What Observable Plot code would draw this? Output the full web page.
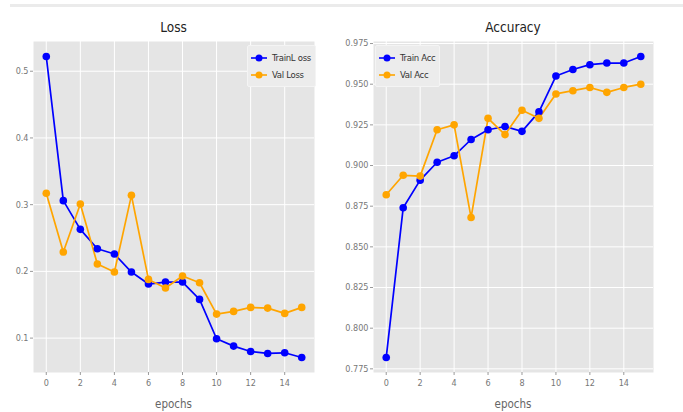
<!DOCTYPE html>
<html>
<head>
<meta charset="utf-8">
<script src="https://cdn.jsdelivr.net/npm/d3@7"></script>
<script src="https://cdn.jsdelivr.net/npm/@observablehq/plot@0.6"></script>
<style>
  html, body { margin: 0; padding: 0; background: #fff; }
  #wrap { position: relative; width: 683px; height: 412px; overflow: hidden;
          font-family: "Liberation Sans Narrow", "DejaVu Sans Condensed", "Liberation Sans", sans-serif; }
  .topbar { position: absolute; left: 10px; top: 4px; width: 673px; height: 3px; background: #ebebeb; }
  .panel { position: absolute; top: 0; }
  .title { position: absolute; top: 19px; font-size: 13.5px; color: #222; transform: translateX(-50%); white-space: nowrap; }
  .xlabel { position: absolute; top: 397px; font-size: 11.5px; color: #666; transform: translateX(-50%); white-space: nowrap; }
  .legend { position: absolute; background: #ececec; border: 1px solid #f4f4f4; border-radius: 2px;
            font-size: 9.5px; letter-spacing: -0.3px; color: #333; padding: 3px 4px 3px 3px; }
  .legend .row { display: flex; align-items: center; height: 17px; }
  .legend svg { margin-right: 5px; }
</style>
</head>
<body>
<div id="wrap">
  <div class="topbar"></div>
</div>
<script>
const epochs = [0,1,2,3,4,5,6,7,8,9,10,11,12,13,14,15];
const trainLoss = [0.522,0.306,0.263,0.234,0.226,0.199,0.181,0.184,0.184,0.158,0.099,0.088,0.080,0.077,0.078,0.071];
const valLoss   = [0.317,0.229,0.301,0.211,0.199,0.314,0.188,0.175,0.193,0.183,0.136,0.140,0.146,0.145,0.137,0.146];
const trainAcc  = [0.782,0.874,0.891,0.902,0.906,0.916,0.922,0.924,0.921,0.933,0.955,0.959,0.962,0.963,0.963,0.967];
const valAcc    = [0.882,0.894,0.8935,0.922,0.925,0.868,0.929,0.919,0.934,0.929,0.944,0.946,0.948,0.945,0.948,0.950];
const xTicks = [0,2,4,6,8,10,12,14];
const lossTicks = [0.1,0.2,0.3,0.4,0.5];
const accTicks = [0.775,0.800,0.825,0.850,0.875,0.900,0.925,0.950,0.975];
const lossLabels = ["TrainL oss", "Val Loss"];
const accLabels = ["Train Acc", "Val Acc"];
const titles = ["Loss", "Accuracy"];
const colors = ["#0000ff", "#ffa500"];

const FONT = '"Liberation Sans Narrow", "DejaVu Sans Condensed", sans-serif';

function toRows(a, b, names) {
  return [
    ...epochs.map((e, i) => ({epoch: e, value: a[i], series: names[0]})),
    ...epochs.map((e, i) => ({epoch: e, value: b[i], series: names[1]}))
  ];
}

function pad(ext) { const r = ext[1] - ext[0]; return [ext[0] - r * 0.05, ext[1] + r * 0.05]; }

function makeChart(rows, names, yTicks, yFmt, width, mLeft, mRight) {
  const yDom = pad(d3.extent(rows, d => d.value));
  return Plot.plot({
    width, height: 412,
    marginLeft: mLeft, marginRight: mRight, marginTop: 41, marginBottom: 40,
    style: { background: "transparent", fontSize: "9px", fontFamily: FONT, color: "#777", overflow: "visible" },
    x: { domain: pad([0, 15]), ticks: xTicks, tickFormat: d3.format("d"), label: null },
    y: { domain: yDom, ticks: yTicks, tickFormat: yFmt, label: null },
    color: { domain: names, range: colors },
    marks: [
      Plot.frame({ fill: "#e5e5e5", stroke: null }),
      Plot.gridX({ ticks: xTicks, stroke: "#fff", strokeOpacity: 1, strokeWidth: 1 }),
      Plot.gridY({ ticks: yTicks, stroke: "#fff", strokeOpacity: 1, strokeWidth: 1 }),
      Plot.axisX({ ticks: xTicks, tickFormat: d3.format("d"), tickSize: 3, tickPadding: 4, stroke: "#999", label: null }),
      Plot.axisY({ ticks: yTicks, tickFormat: yFmt, tickSize: 3, tickPadding: 2, stroke: "#999", label: null }),
      Plot.line(rows, { x: "epoch", y: "value", z: "series", stroke: "series", strokeWidth: 1.7 }),
      Plot.dot(rows, { x: "epoch", y: "value", fill: "series", r: 3.8 })
    ]
  });
}

function legendHTML(names) {
  return names.map((n, i) =>
    `<div class="row"><svg width="16" height="10"><line x1="0" y1="5" x2="16" y2="5" stroke="${colors[i]}" stroke-width="1.6"/><circle cx="8" cy="5" r="3.5" fill="${colors[i]}"/></svg><span>${n}</span></div>`
  ).join("");
}

const wrap = document.getElementById("wrap");

function addPanel(left, chart, title, centerX, names, legendLeft) {
  const p = document.createElement("div");
  p.className = "panel";
  p.style.left = left + "px";
  p.appendChild(chart);
  wrap.appendChild(p);
  const t = document.createElement("div");
  t.className = "title"; t.textContent = title; t.style.left = centerX + "px";
  wrap.appendChild(t);
  const xl = document.createElement("div");
  xl.className = "xlabel"; xl.textContent = "epochs"; xl.style.left = centerX + "px";
  wrap.appendChild(xl);
  const lg = document.createElement("div");
  lg.className = "legend"; lg.innerHTML = legendHTML(names);
  lg.style.left = legendLeft + "px"; lg.style.top = "45px";
  wrap.appendChild(lg);
}

const lossChart = makeChart(toRows(trainLoss, valLoss, lossLabels), lossLabels, lossTicks, d3.format(".1f"), 340, 33, 26);
addPanel(0, lossChart, titles[0], 173.5, lossLabels, 247);

const accChart = makeChart(toRows(trainAcc, valAcc, accLabels), accLabels, accTicks, d3.format(".3f"), 343, 33, 30);
addPanel(340, accChart, titles[1], 513, accLabels, 375);
</script>
</body>
</html>
